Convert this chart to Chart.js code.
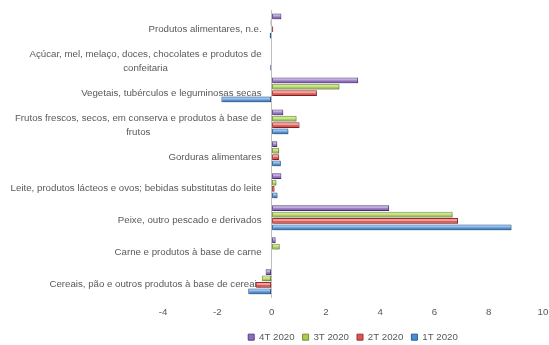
<!DOCTYPE html>
<html>
<head>
<meta charset="utf-8">
<script src="https://cdn.jsdelivr.net/npm/chart.js@4.4.1/dist/chart.umd.min.js"></script>
<style>
  html, body { margin: 0; padding: 0; background: #fff; overflow: hidden; }
  #wrap { width: 549px; height: 346px; }
</style>
</head>
<body>
<div id="wrap"><canvas id="chart"></canvas></div>
<script>
// Variação por grupo de produtos alimentares, trimestres de 2020
const categories = [
  'Produtos alimentares, n.e.',
  ['Açúcar, mel, melaço, doces, chocolates e produtos de', 'confeitaria'],
  'Vegetais, tubérculos e leguminosas secas',
  ['Frutos frescos, secos, em conserva e produtos à base de', 'frutos'],
  'Gorduras alimentares',
  'Leite, produtos lácteos e ovos; bebidas substitutas do leite',
  'Peixe, outro pescado e derivados',
  'Carne e produtos à base de carne',
  'Cereais, pão e outros produtos à base de cereais'
];
const seriesNames = ['4T 2020', '3T 2020', '2T 2020', '1T 2020'];
const q4 = [0.36, 0, 3.19, 0.43, 0.21, 0.36, 4.33, 0.15, -0.22];
const q3 = [-0.04, -0.02, 2.50, 0.92, 0.28, 0.18, 6.67, 0.30, -0.36];
const q2 = [0.06, -0.02, 1.67, 1.03, 0.28, 0.11, 6.87, 0.01, -0.58];
const q1 = [-0.07, -0.05, -1.85, 0.62, 0.34, 0.22, 8.84, 0.01, -0.86];
const xTicks = [-4, -2, 0, 2, 4, 6, 8, 10];

const fills = ['#8e6cc0', '#a9cd52', '#dd5450', '#4a8dd4'];
const edges = ['#5a3f82', '#6f8f30', '#9c2f2d', '#2a5a96'];
const textColor = '#595959';
const FONT = '"Liberation Sans", Arial, sans-serif';

Chart.defaults.font.family = FONT;
Chart.defaults.font.size = 9.7;
Chart.defaults.color = textColor;

// category names sit left of the zero line, under the bars
const categoryLabels = {
  id: 'categoryLabels',
  beforeDatasetsDraw(chart) {
    const { ctx, scales: { x, y } } = chart;
    const right = x.getPixelForValue(0) - 10;
    ctx.save();
    ctx.font = '9.7px ' + FONT;
    ctx.fillStyle = textColor;
    ctx.textAlign = 'center';
    ctx.textBaseline = 'middle';
    categories.forEach((lab, i) => {
      const lines = Array.isArray(lab) ? lab : [lab];
      const w = Math.max(...lines.map(l => ctx.measureText(l).width));
      const cx = right - w / 2;
      const cy = y.getPixelForValue(i) + 3;
      lines.forEach((l, j) => {
        ctx.fillText(l, cx, cy + (j - (lines.length - 1) / 2) * 14);
      });
    });
    ctx.restore();
  }
};

// soft drop shadow under bars + glossy top strip
const barShade = {
  id: 'barShade',
  beforeDatasetsDraw(chart) {
    const ctx = chart.ctx;
    ctx.save();
    ctx.shadowColor = 'rgba(0,0,0,0.28)';
    ctx.shadowBlur = 2;
    ctx.shadowOffsetX = 1;
    ctx.shadowOffsetY = 1.5;
  },
  afterDatasetsDraw(chart) {
    const ctx = chart.ctx;
    ctx.restore();
    ctx.save();
    chart.data.datasets.forEach((ds, di) => {
      const meta = chart.getDatasetMeta(di);
      meta.data.forEach(el => {
        const { x, y, base, height } = el.getProps(['x', 'y', 'base', 'height'], true);
        const left = Math.min(x, base);
        const w = Math.abs(x - base);
        if (w < 3) return;
        ctx.fillStyle = 'rgba(255,255,255,0.45)';
        ctx.fillRect(left + 1, y - height / 2 + 1, w - 2, height * 0.35);
      });
    });
    ctx.restore();
  }
};

// push the legend row a little lower
const legendOffset = {
  id: 'legendOffset',
  afterLayout(chart) {
    chart.legend.top += 6;
    chart.legend.bottom += 6;
  }
};

const seriesData = [q4, q3, q2, q1];

new Chart(document.getElementById('chart'), {
  type: 'bar',
  data: {
    labels: categories,
    datasets: seriesNames.map((name, i) => ({
      label: name,
      data: seriesData[i],
      backgroundColor: fills[i],
      borderColor: edges[i],
      borderWidth: 1,
      borderSkipped: false,
      categoryPercentage: 0.8,
      barPercentage: 0.9
    }))
  },
  options: {
    indexAxis: 'y',
    responsive: true,
    maintainAspectRatio: false,
    animation: false,
    layout: { padding: { top: 10, left: 163, right: 6, bottom: 0 } },
    scales: {
      x: {
        min: -4,
        max: 10,
        afterBuildTicks(scale) {
          scale.ticks = xTicks.map(v => ({ value: v }));
        },
        grid: {
          drawTicks: true,
          tickLength: 9,
          tickColor: 'transparent',
          color: c => (c.tick && c.tick.value === 0 ? '#bfbfbf' : 'transparent')
        },
        border: { display: false },
        ticks: { padding: 0, color: textColor }
      },
      y: {
        display: false
      }
    },
    plugins: {
      legend: {
        position: 'bottom',
        labels: {
          boxWidth: 6,
          boxHeight: 6,
          padding: 8,
          color: textColor
        }
      },
      tooltip: { enabled: false }
    }
  },
  plugins: [categoryLabels, barShade, legendOffset]
});
</script>
</body>
</html>
